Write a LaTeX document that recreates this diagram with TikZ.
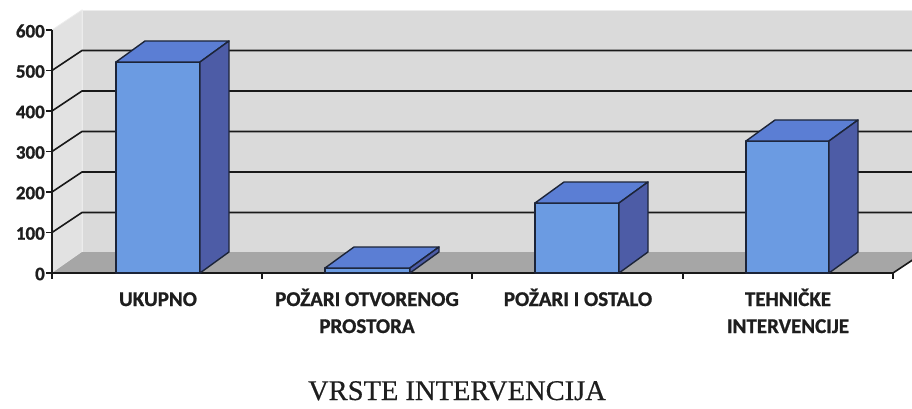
\documentclass[tikz,border=0pt]{standalone}
\usepackage{fontspec}
\setmainfont{Liberation Serif}
\newfontfamily\labfont{Carlito Bold}[FakeBold=1]
\newfontfamily\titlefont{Liberation Serif}[FakeBold=0.5]
\usetikzlibrary{calc}
\definecolor{wallback}{HTML}{DADADA}
\definecolor{wallside}{HTML}{E2E2E2}
\definecolor{floorgray}{HTML}{A6A6A6}
\definecolor{barfront}{HTML}{6B9BE2}
\definecolor{bartop}{HTML}{5B7ED4}
\definecolor{barside}{HTML}{4D5CA6}
\definecolor{barline}{HTML}{1C2438}
\definecolor{txt}{HTML}{1E1E1E}
\tikzset{
  backwall/.style={fill=wallback,draw=white!85!gray,line width=0.8pt},
  sidewall/.style={fill=wallside,draw=white!85!gray,line width=0.8pt},
  floorface/.style={fill=floorgray,draw=none},
  gridln/.style={draw=black!90,line width=1.6pt},
  axisln/.style={draw=black!90,line width=1.6pt},
  bfront/.style={fill=barfront,draw=barline,line width=1.4pt,line join=round},
  btop/.style={fill=bartop,draw=barline,line width=1.4pt,line join=round},
  bside/.style={fill=barside,draw=barline,line width=1.4pt,line join=round},
  ylab/.style={anchor=east,inner sep=0pt,text=txt,font=\labfont\fontsize{19}{19}\selectfont},
  catlab/.style={anchor=base,inner sep=0pt,text=txt,align=center,font=\labfont\fontsize{21}{27}\selectfont},
  titlelab/.style={anchor=base,inner sep=0pt,text=txt,font=\titlefont\fontsize{28.5}{30}\selectfont}
}
\newcommand\mybar[3]{%
  \path[bfront] (#1,273) rectangle (#2,#3);
  \path[btop] (#1,#3) -- ++(29,-21) -- ($(#2,#3)+(29,-21)$) -- (#2,#3) -- cycle;
  \path[bside] (#2,#3) -- ++(29,-21) -- ($(#2,252)+(29,0)$) -- (#2,273) -- cycle;
}
\begin{document}
\begin{tikzpicture}[x=1pt,y=-1pt]
  \path[fill=white] (0,0) rectangle (912,409);
  \useasboundingbox (0,0) rectangle (912,409);
  % walls
  \path[backwall] (82,10) rectangle (914,252);
  \path[sidewall] (52,30) -- (82,10) -- (82,252) -- (52,273) -- cycle;
  % floor
  \path[floorface] (52,273) -- (82,252) -- (914,252) -- (914,260) -- (893,273) -- cycle;
  \draw[draw=white!85!gray,line width=0.8pt] (82,10) -- (82,252);
  % gridlines
  \foreach \v in {1,...,5}{
    \draw[gridln] (52,{273-40.5*\v}) -- (82,{253-40.5*\v}) -- (914,{253-40.5*\v});
  }
  % axes
  \draw[axisln] (52,30) -- (52,273) -- (893,273);
  \draw[axisln] (893,273) -- (914,259);
  \foreach \v/\t in {0/0,1/100,2/200,3/300,4/400,5/500,6/600}{
    \draw[axisln] (46,{273-40.5*\v}) -- (52,{273-40.5*\v});
    \node[ylab] (y\v) at (45,{274-40.5*\v}) {\t};
  }
  \foreach \x in {52,262,472,683,893}{
    \draw[axisln] (\x,273) -- (\x,279);
  }
  % bars
  \mybar{116}{200}{62}
  \mybar{325}{410}{268}
  \mybar{535}{619}{203}
  \mybar{746}{829}{141}
  % category labels
  \node[catlab] (c1) at (158,306) {UKUPNO};
  \node[catlab] (c2) at (367,333) {POŽARI OTVORENOG\\PROSTORA};
  \node[catlab] (c3) at (578,306) {POŽARI I OSTALO};
  \node[catlab] (c4) at (788,333) {TEHNIČKE\\INTERVENCIJE};
  % title
  \node[titlelab] (title) at (457,400) {VRSTE INTERVENCIJA};
\end{tikzpicture}
\end{document}
